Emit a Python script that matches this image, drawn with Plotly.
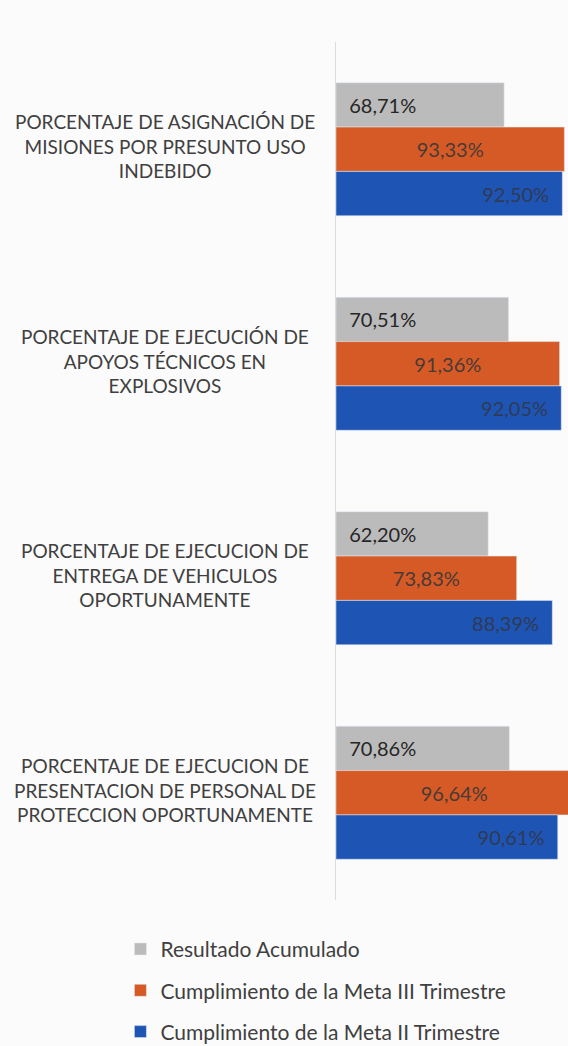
import plotly.graph_objects as go

categorias = [
    "PORCENTAJE DE ASIGNACIÓN DE<br>MISIONES POR PRESUNTO USO<br>INDEBIDO",
    "PORCENTAJE DE EJECUCIÓN DE<br>APOYOS TÉCNICOS EN<br>EXPLOSIVOS",
    "PORCENTAJE DE EJECUCION DE<br>ENTREGA DE VEHICULOS<br>OPORTUNAMENTE",
    "PORCENTAJE DE EJECUCION DE<br>PRESENTACION DE PERSONAL DE<br>PROTECCION OPORTUNAMENTE",
]
resultado_acumulado = [68.71, 70.51, 62.20, 70.86]
meta_iii = [93.33, 91.36, 73.83, 96.64]
meta_ii = [92.50, 92.05, 88.39, 90.61]

FONT = "Lato"
TXT = "#404040"

fig = go.Figure()

fig.add_trace(go.Bar(
    y=categorias, x=resultado_acumulado, orientation="h",
    name="Resultado Acumulado", legendgroup="a",
    marker_color="#BBBBBB",
    texttemplate="\u00a0\u00a0%{x:.2f}%", textposition="inside",
    insidetextanchor="start",
    textfont=dict(family=FONT, size=20, color="#262626"),
))
fig.add_trace(go.Bar(
    y=categorias, x=meta_iii, orientation="h",
    name="Cumplimiento de la Meta III Trimestre", legendgroup="b",
    marker_color="#D65A26",
    texttemplate="%{x:.2f}%", textposition="inside",
    insidetextanchor="middle",
    textfont=dict(family=FONT, size=20, color="#4a3a35"),
))
fig.add_trace(go.Bar(
    y=categorias, x=meta_ii, orientation="h",
    name="Cumplimiento de la Meta II Trimestre", legendgroup="c",
    marker_color="#1E55B5",
    texttemplate="%{x:.2f}%\u00a0\u00a0", textposition="inside",
    insidetextanchor="end",
    textfont=dict(family=FONT, size=20, color="#2f3a55"),
))

# category labels centred to the left of the bars
for cat in categorias:
    fig.add_annotation(
        x=-0.737, xref="paper", y=cat, yref="y", yshift=3,
        text=cat, showarrow=False, xanchor="center", yanchor="middle",
        align="center", font=dict(family=FONT, size=19, color=TXT),
    )

fig.update_layout(
    width=568, height=1046,
    margin=dict(l=336, r=0, t=42, b=146, autoexpand=False),
    paper_bgcolor="#FBFBFB", plot_bgcolor="#FBFBFB",
    barmode="group", bargap=0.38, bargroupgap=0,
    separators=",.",
    showlegend=True,
    legend=dict(
        orientation="v", xref="container", yref="container",
        x=0.212, y=0.112, xanchor="left", yanchor="top",
        font=dict(family=FONT, size=21, color=TXT),
        tracegroupgap=11, bgcolor="rgba(0,0,0,0)",
    ),
    font=dict(family=FONT, color=TXT),
)
fig.update_xaxes(range=[0, 94.8], visible=False, fixedrange=True)
fig.update_yaxes(
    autorange="reversed", showticklabels=False, ticks="",
    showline=True, linecolor="#DCDCDC", linewidth=1, showgrid=False,
    zeroline=False, fixedrange=True,
)

fig.write_html("out.html", config={"displayModeBar": False},
               post_script="document.body.style.margin='0';")
